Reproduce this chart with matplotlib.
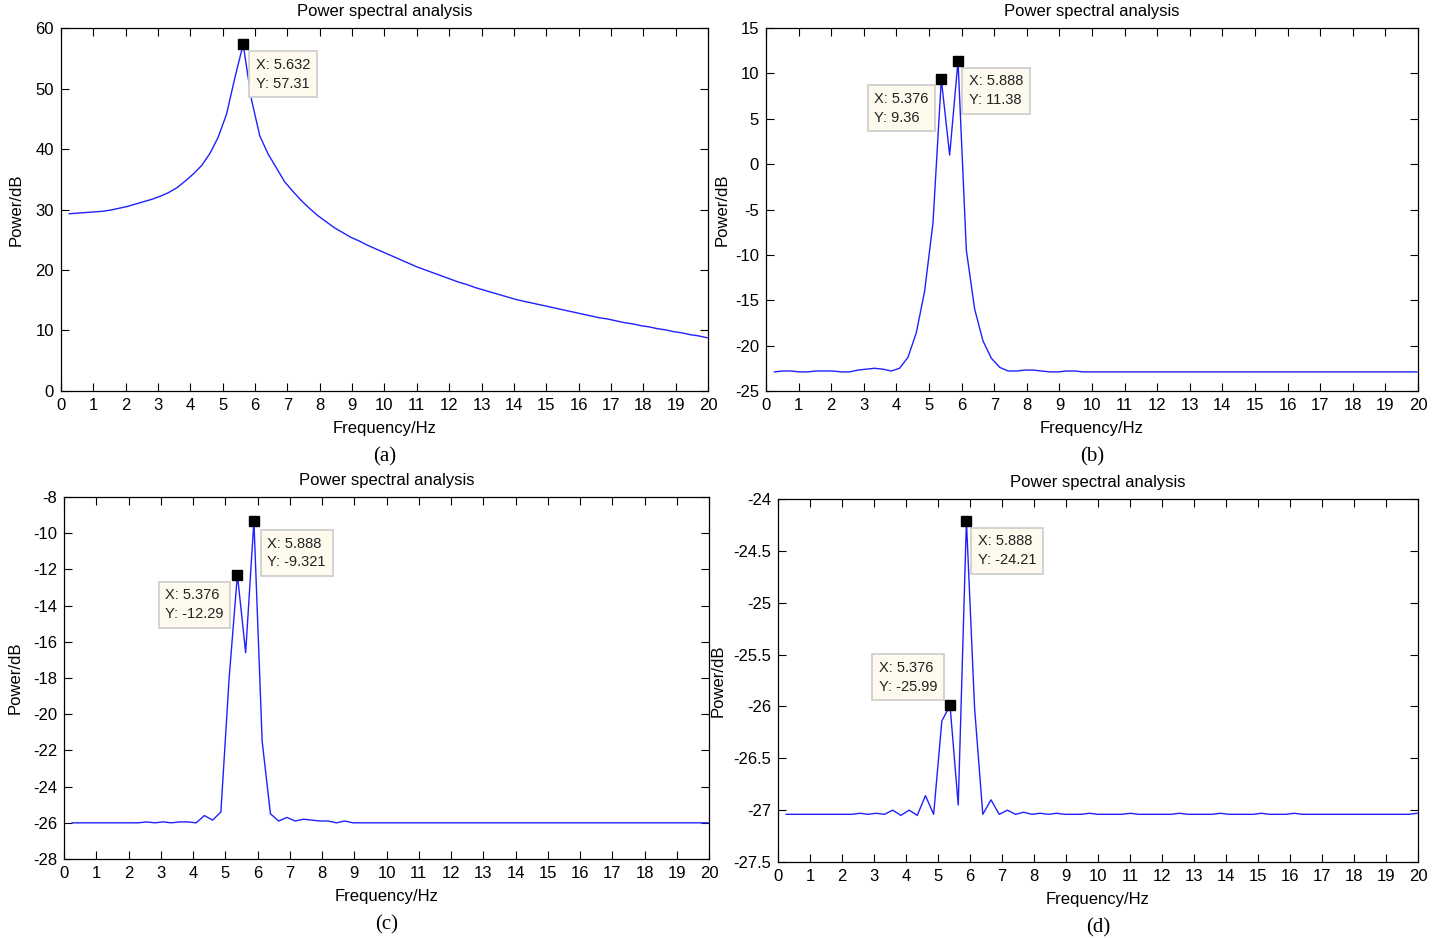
import numpy as np
import matplotlib
matplotlib.use("Agg")
import matplotlib.pyplot as plt

plt.rcParams['font.family'] = ['Liberation Sans', 'DejaVu Sans']

# frequency bins (Hz), resolution 0.256 Hz
freq = np.arange(1, 79) * 0.256

psd_a = [29.3, 29.4, 29.5, 29.6, 29.7, 29.9, 30.2, 30.5, 30.9, 31.3,
         31.7, 32.2, 32.8, 33.6, 34.7, 35.9, 37.3, 39.3, 42.0, 45.8,
         51.8, 57.31, 48.2, 42.2, 39.2, 36.9, 34.6, 33.0, 31.5, 30.2,
         29.0, 28.0, 27.0, 26.2, 25.4, 24.8, 24.1, 23.5, 22.9, 22.3,
         21.7, 21.1, 20.5, 20.0, 19.5, 19.0, 18.5, 18.0, 17.6, 17.1,
         16.7, 16.3, 15.9, 15.5, 15.1, 14.8, 14.5, 14.2, 13.9, 13.6,
         13.3, 13.0, 12.7, 12.4, 12.1, 11.9, 11.6, 11.3, 11.1, 10.8,
         10.6, 10.3, 10.1, 9.8, 9.6, 9.3, 9.1, 8.8]

psd_b = [-22.9, -22.8, -22.8, -22.9, -22.9, -22.8, -22.8, -22.8, -22.9, -22.9,
         -22.7, -22.6, -22.5, -22.6, -22.8, -22.5, -21.3, -18.6, -14.0, -6.5,
         9.36, 1.0, 11.38, -9.5, -16.0, -19.5, -21.4, -22.4, -22.8, -22.8,
         -22.7, -22.7, -22.8, -22.9, -22.9, -22.8, -22.8, -22.9, -22.9, -22.9,
         -22.9, -22.9, -22.9, -22.9, -22.9, -22.9, -22.9, -22.9, -22.9, -22.9,
         -22.9, -22.9, -22.9, -22.9, -22.9, -22.9, -22.9, -22.9, -22.9, -22.9,
         -22.9, -22.9, -22.9, -22.9, -22.9, -22.9, -22.9, -22.9, -22.9, -22.9,
         -22.9, -22.9, -22.9, -22.9, -22.9, -22.9, -22.9, -22.9]

psd_c = [-26.0, -26.0, -26.0, -26.0, -26.0, -26.0, -26.0, -26.0, -26.0, -25.95,
         -26.0, -25.95, -26.0, -25.95, -25.95, -26.0, -25.6, -25.85, -25.4, -18.0,
         -12.29, -16.6, -9.321, -21.5, -25.5, -25.9, -25.7, -25.9, -25.8, -25.85,
         -25.9, -25.9, -26.0, -25.9, -26.0, -26.0, -26.0, -26.0, -26.0, -26.0,
         -26.0, -26.0, -26.0, -26.0, -26.0, -26.0, -26.0, -26.0, -26.0, -26.0,
         -26.0, -26.0, -26.0, -26.0, -26.0, -26.0, -26.0, -26.0, -26.0, -26.0,
         -26.0, -26.0, -26.0, -26.0, -26.0, -26.0, -26.0, -26.0, -26.0, -26.0,
         -26.0, -26.0, -26.0, -26.0, -26.0, -26.0, -26.0, -26.0]

psd_d = [-27.04, -27.04, -27.04, -27.04, -27.04, -27.04, -27.04, -27.04, -27.04, -27.03,
         -27.04, -27.03, -27.04, -27.0, -27.05, -27.0, -27.05, -26.86, -27.04, -26.14,
         -25.99, -26.95, -24.21, -26.02, -27.04, -26.9, -27.04, -27.0, -27.04, -27.02,
         -27.04, -27.03, -27.04, -27.03, -27.04, -27.04, -27.04, -27.03, -27.04, -27.04,
         -27.04, -27.04, -27.03, -27.04, -27.04, -27.04, -27.04, -27.04, -27.03, -27.04,
         -27.04, -27.04, -27.04, -27.03, -27.04, -27.04, -27.04, -27.04, -27.03, -27.04,
         -27.04, -27.04, -27.03, -27.04, -27.04, -27.04, -27.04, -27.04, -27.04, -27.04,
         -27.04, -27.04, -27.04, -27.04, -27.04, -27.04, -27.04, -27.03]

panels = ['(a)', '(b)', '(c)', '(d)']
series = [psd_a, psd_b, psd_c, psd_d]
ylims = [(0, 60), (-25, 15), (-28, -8), (-27.5, -24)]
yticks = [np.arange(0, 61, 10), np.arange(-25, 16, 5),
          np.arange(-28, -7, 2), np.arange(-27.5, -23.9, 0.5)]
# data tips: (bin index, box corner dx px, box corner dy px (down), ha, va)
tips = [
    [(21, 6, 7, 'left', 'top')],
    [(20, -6, 6, 'right', 'top'), (22, 4, 7, 'left', 'top')],
    [(20, -7, 7, 'right', 'top'), (22, 7, 9, 'left', 'top')],
    [(20, -6, -5, 'right', 'bottom'), (22, 5, 7, 'left', 'top')],
]
# axes rectangles in figure fractions
rects = [[0.0419, 0.5832, 0.4447, 0.3869],
         [0.5265, 0.5832, 0.4481, 0.3869],
         [0.0440, 0.0842, 0.4433, 0.3859],
         [0.5347, 0.0810, 0.4399, 0.3870]]
ylabel_x = [-0.057, -0.056, -0.064, -0.082]

fig = plt.figure(figsize=(14.55, 9.38), dpi=100)
tip_fs = 10.5
tip_pad = 0.45
pad_px = tip_pad * tip_fs * 100 / 72

for i in range(4):
    ax = fig.add_axes(rects[i])
    y = np.array(series[i])
    ax.plot(freq, y, color='#2020ff', lw=1.0)
    ax.set_xlim(0, 20)
    ax.set_ylim(*ylims[i])
    ax.set_xticks(np.arange(0, 21, 1))
    ax.set_yticks(yticks[i])
    ax.set_yticklabels([f"{v:g}" for v in yticks[i]])
    ax.tick_params(direction='in', length=6, width=0.8, top=True, right=True,
                   labelsize=12, pad=5, colors='black')
    for s in ax.spines.values():
        s.set_linewidth(0.9)
    ax.set_title('Power spectral analysis', fontsize=12, pad=9)
    ax.set_xlabel('Frequency/Hz', fontsize=12, labelpad=6)
    ax.set_ylabel('Power/dB', fontsize=12)
    ax.yaxis.set_label_coords(ylabel_x[i], 0.5)

    for k, dx, dy, ha, va in tips[i]:
        fx, fy = freq[k], y[k]
        ax.plot(fx, fy, 's', color='black', ms=7, zorder=5, clip_on=False)
        tx = dx + pad_px if ha == 'left' else dx - pad_px
        ty = -(dy + pad_px) if va == 'top' else -dy + pad_px
        ax.annotate(f"X: {fx:.4g}\nY: {fy:.4g}", xy=(fx, fy), xytext=(tx, ty),
                    textcoords='offset pixels', ha=ha, va=va, fontsize=tip_fs,
                    multialignment='left', linespacing=1.45, color='#222222',
                    bbox=dict(boxstyle=f'square,pad={tip_pad}', fc='#fffaee',
                              ec='#cfcfcf', lw=1.3))

    pos = ax.get_position()
    fig.text(pos.x0 + pos.width / 2, pos.y0 - 66 / 938, panels[i], ha='center',
             va='center', fontsize=15, family='Liberation Serif')

fig.savefig('out.png', dpi=100)
